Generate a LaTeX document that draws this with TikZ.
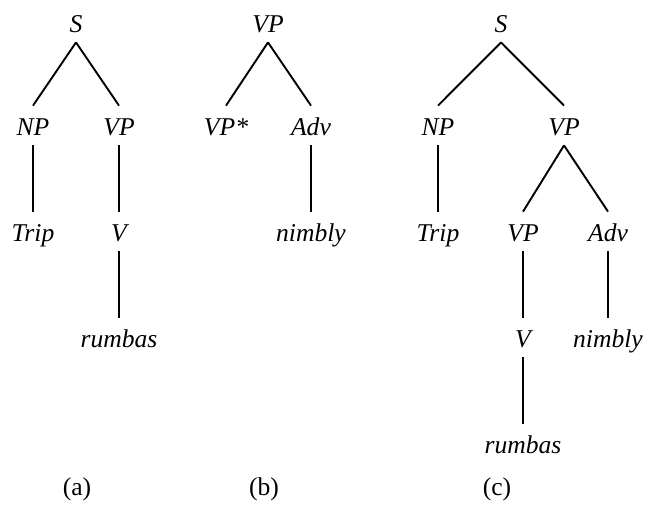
\documentclass[tikz,border=0pt]{standalone}
\usepackage{fontspec}
\setmainfont{Liberation Serif}
\usetikzlibrary{positioning}

\begin{document}
\begin{tikzpicture}[x=0.5pt,y=-0.5pt]
  \tikzset{
    cat/.style={
      font=\fontsize{12.8}{15}\selectfont\itshape,
      anchor=base,
      text height=12pt,
      text depth=2.5pt,
      inner sep=2.5pt
    },
    caption/.style={
      font=\fontsize{12.8}{15}\selectfont,
      anchor=base
    },
    branch/.style={
      draw=black,
      line width=0.95pt
    }
  }
  \useasboundingbox (0,0) rectangle (646,510);

  % Tree (a)
  \node[cat] (aS) at (76,32) {S};
  \node[cat] (aNP) at (33,135) {NP};
  \node[cat] (aVP) at (119,135) {VP};
  \node[cat] (aTrip) at (33,241) {Trip};
  \node[cat] (aV) at (119,241) {V};
  \node[cat] (arumbas) at (119,347) {rumbas};

  \draw[branch] (aS.south) -- (aNP.north);
  \draw[branch] (aS.south) -- (aVP.north);
  \draw[branch] (aNP.south) -- (aTrip.north);
  \draw[branch] (aVP.south) -- (aV.north);
  \draw[branch] (aV.south) -- (arumbas.north);

  % Tree (b)
  \node[cat] (bVP) at (268,32) {VP};
  \node[cat] (bfoot) at (226,135) {VP*};
  \node[cat] (bAdv) at (311,135) {Adv};
  \node[cat] (bnimbly) at (311,241) {nimbly};

  \draw[branch] (bVP.south) -- (bfoot.north);
  \draw[branch] (bVP.south) -- (bAdv.north);
  \draw[branch] (bAdv.south) -- (bnimbly.north);

  % Tree (c)
  \node[cat] (cS) at (501,32) {S};
  \node[cat] (cNP) at (438,135) {NP};
  \node[cat] (cVP) at (564,135) {VP};
  \node[cat] (cTrip) at (438,241) {Trip};
  \node[cat] (cVPlow) at (523,241) {VP};
  \node[cat] (cAdv) at (608,241) {Adv};
  \node[cat] (cV) at (523,347) {V};
  \node[cat] (cnimbly) at (608,347) {nimbly};
  \node[cat] (crumbas) at (523,453) {rumbas};

  \draw[branch] (cS.south) -- (cNP.north);
  \draw[branch] (cS.south) -- (cVP.north);
  \draw[branch] (cNP.south) -- (cTrip.north);
  \draw[branch] (cVP.south) -- (cVPlow.north);
  \draw[branch] (cVP.south) -- (cAdv.north);
  \draw[branch] (cVPlow.south) -- (cV.north);
  \draw[branch] (cAdv.south) -- (cnimbly.north);
  \draw[branch] (cV.south) -- (crumbas.north);

  % Captions
  \node[caption] (capa) at (77,495) {(a)};
  \node[caption] (capb) at (264,495) {(b)};
  \node[caption] (capc) at (497,495) {(c)};
\end{tikzpicture}
\end{document}
